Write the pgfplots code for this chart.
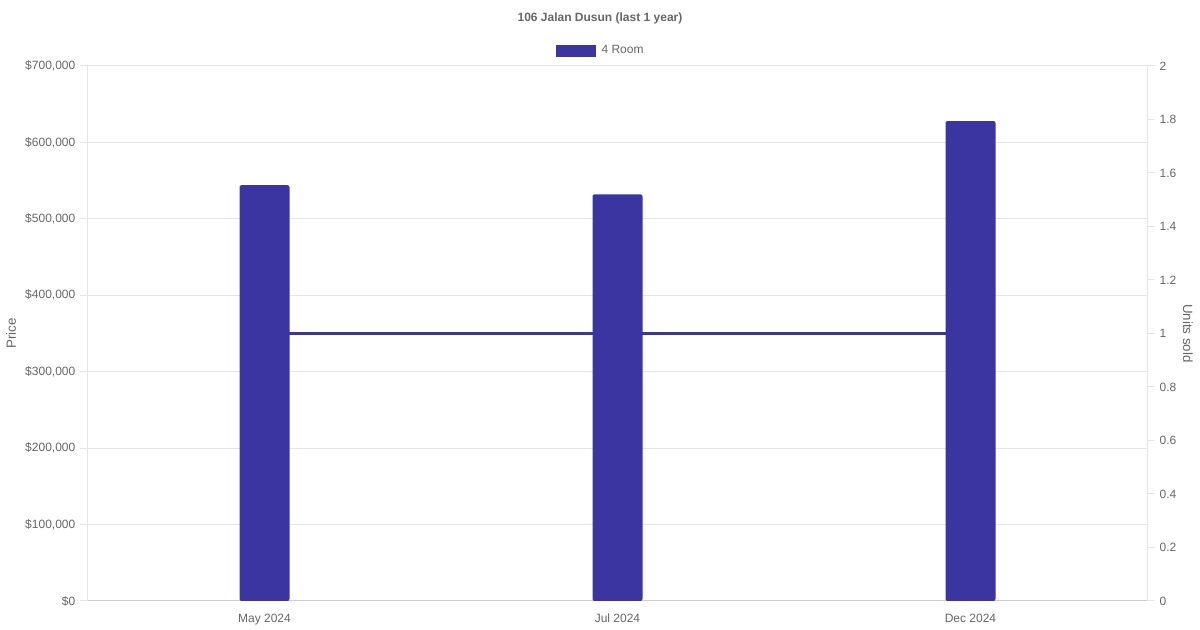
\documentclass[border=0pt]{standalone}
\usepackage{fontspec}
\setmainfont{Liberation Sans}
\usepackage{pgfplots}
\pgfplotsset{compat=1.18}
\definecolor{barblue}{RGB}{58,53,160}
\definecolor{txtgray}{RGB}{102,102,102}
\definecolor{gridgray}{RGB}{229,229,229}
\definecolor{axisgray}{RGB}{204,204,204}

\pgfplotsset{
  base/.style={
    scale only axis, width=794.25pt, height=401.25pt,
    xmin=-0.5, xmax=2.5,
    font=\fontsize{9}{11}\selectfont,
    tick label style={font=\fontsize{9}{11}\selectfont, text=txtgray},
    /pgf/number format/assume math mode=true,
    tick align=outside, major tick length=6pt,
  },
}

\begin{document}
\begin{tikzpicture}
% grid, frame and price ticks
\begin{axis}[base, name=main,
  ymin=0, ymax=700000,
  ytick={0,100000,200000,300000,400000,500000,600000,700000},
  scaled y ticks=false,
  yticklabel={\$\pgfmathprintnumber[fixed,1000 sep={,}]{\tick}},
  xtick={0,1,2}, xticklabels={May 2024,Jul 2024,Dec 2024},
  axis x line*=bottom, axis y line*=left,
  x axis line style={-,draw=axisgray,line width=0.75pt},
  y axis line style={-,draw=gridgray,line width=0.75pt},
  ymajorgrids, grid style={draw=gridgray, line width=0.75pt},
  ytick style={draw=gridgray, line width=0.75pt},
  xtick style={draw=none},
]
\end{axis}

% units sold, right axis
\begin{axis}[base,
  ymin=0, ymax=2,
  ytick={0,0.2,0.4,0.6,0.8,1,1.2,1.4,1.6,1.8,2},
  yticklabel style={/pgf/number format/fixed},
  axis y line*=right, axis x line=none,
  y axis line style={-,draw=gridgray,line width=0.75pt},
  ytick style={draw=gridgray, line width=0.75pt},
]
\addplot[barblue, line width=2pt] coordinates {(0,1) (1,1) (2,1)};
\end{axis}

% price bars
\begin{axis}[base, hide axis,
  ymin=0, ymax=700000,
  ybar, bar width=37.5pt,
  legend style={at={(0.4419,1)}, anchor=west, yshift=11.5pt,
    draw=none, fill=none, inner sep=0pt, text=txtgray,
    font=\fontsize{9}{11}\selectfont,
    /tikz/every odd column/.append style={column sep=2pt}},
]
\addplot[fill=barblue, draw=none, bar shift=0pt,
  rounded corners=1.5pt,
  legend image code/.code={\fill[barblue, sharp corners] (0pt,-4.5pt) rectangle (30pt,4.5pt);}]
  coordinates {(0,544000) (1,532000) (2,628000)};
\addlegendentry{4 Room}
\end{axis}

\node[text=txtgray, rotate=90] at ([xshift=-57.75pt]main.west) {Price};
\node[text=txtgray, rotate=-90] at ([xshift=30.75pt]main.east) {Units sold};
\node[text=txtgray, font=\bfseries\fontsize{9}{11}\selectfont]
  at ([xshift=384pt,yshift=36pt]main.north west) {106 Jalan Dusun (last 1 year)};

\pgfresetboundingbox
\path[use as bounding box] ([xshift=-66pt,yshift=-21.75pt]main.south west)
  rectangle ([xshift=39.75pt,yshift=49.5pt]main.north east);
\end{tikzpicture}
\end{document}
